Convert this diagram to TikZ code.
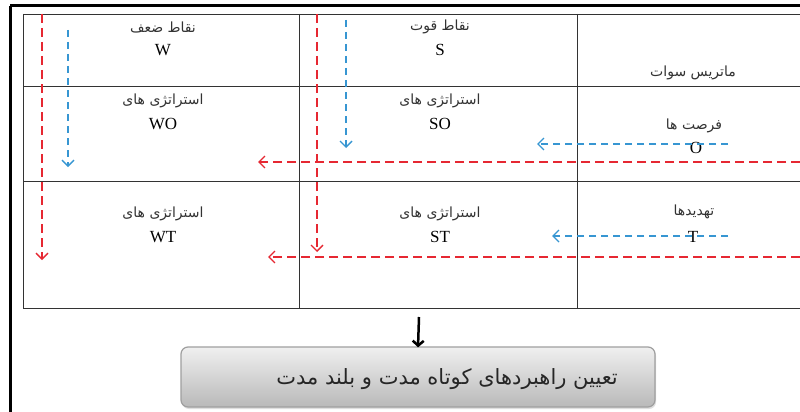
\documentclass[tikz,border=0pt]{standalone}
\usepackage{fontspec}
\setmainfont{Liberation Serif}
\newfontfamily\fa[Script=Arabic]{DejaVu Sans}
\TeXXeTstate=1
\usetikzlibrary{arrows.meta,shadows}
\definecolor{myred}{RGB}{230,40,50}
\definecolor{myblue}{RGB}{55,150,210}
\begin{document}
\begin{tikzpicture}[x=1pt,y=-1pt,
  gridline/.style={draw=black!80, line width=0.8pt},
  frameline/.style={draw=black, line width=3pt},
  lat/.style={inner sep=0pt, text=black, font=\fontsize{17}{19}\selectfont},
  per/.style={inner sep=0pt, text=black!80, font=\fa\fontsize{14}{16}\selectfont},
  redarr/.style={draw=myred, line width=1.3pt, dash pattern=on 9pt off 5pt, -{Straight Barb[length=6pt,width=12pt]}},
  bluearr/.style={draw=myblue, line width=1.4pt, dash pattern=on 7pt off 5pt, -{Straight Barb[length=6pt,width=12pt]}},
  resbox/.style={draw=gray!75, line width=1.2pt, rounded corners=7pt, top color=gray!12, bottom color=gray!55, minimum width=474pt, minimum height=60pt, drop shadow={opacity=0.25, shadow xshift=1pt, shadow yshift=-2pt}},
  blackarr/.style={draw=black, line width=2.5pt, -{Straight Barb[length=5pt,width=11pt,line width=2.5pt]}}]
\useasboundingbox (0,0) rectangle (800,412);
\fill[white] (0,0) rectangle (800,412);
% outer frame
\draw[frameline] (10,6) -- (800,6);
\draw[frameline] (10,6) -- (10,412);
% table
\draw[gridline] (23,14) -- (800,14);
\draw[gridline] (23,86) -- (800,86);
\draw[gridline] (23,181) -- (800,181);
\draw[gridline] (23,308) -- (800,308);
\draw[gridline] (23,14) -- (23,308);
\draw[gridline] (299,14) -- (299,308);
\draw[gridline] (577,14) -- (577,308);
% texts
\node[per] (wfa) at (163,27) {\beginR نقاط ضعف\endR};
\node[lat] (w) at (163,50) {W};
\node[per] (sfa) at (440,27) {\beginR نقاط قوت\endR};
\node[lat] (s) at (440,50) {S};
\node[per] (swot) at (693,73) {\beginR ماتریس سوات\endR};
\node[per] (wofa) at (163,101) {\beginR استراتژی های\endR};
\node[lat] (wo) at (163,124) {WO};
\node[per] (sofa) at (440,101) {\beginR استراتژی های\endR};
\node[lat] (so) at (440,124) {SO};
\node[per] (ofa) at (694,126) {\beginR فرصت ها\endR};
\node[lat] (o) at (696,148) {O};
\node[per] (wtfa) at (163,214) {\beginR استراتژی های\endR};
\node[lat] (wt) at (163,237) {WT};
\node[per] (stfa) at (440,214) {\beginR استراتژی های\endR};
\node[lat] (st) at (440,237) {ST};
\node[per] (tfa) at (694,212) {\beginR تهدیدها\endR};
\node[lat] (t) at (693,237) {T};
% arrow end points
\coordinate (r1a) at (42,14);  \coordinate (r1b) at (42,260);
\coordinate (b1a) at (68,30);  \coordinate (b1b) at (68,167);
\coordinate (r2a) at (317,14); \coordinate (r2b) at (317,252);
\coordinate (b2a) at (346,20); \coordinate (b2b) at (346,148);
\coordinate (boa) at (728,144); \coordinate (bob) at (537,144);
\coordinate (roa) at (800,162); \coordinate (rob) at (258,162);
\coordinate (bta) at (728,236); \coordinate (btb) at (552,236);
\coordinate (rta) at (800,257); \coordinate (rtb) at (268,257);
\draw[redarr] (r1a) -- (r1b);
\draw[bluearr] (b1a) -- (b1b);
\draw[redarr] (r2a) -- (r2b);
\draw[bluearr] (b2a) -- (b2b);
\draw[bluearr] (boa) -- (bob);
\draw[redarr] (roa) -- (rob);
\draw[bluearr] (bta) -- (btb);
\draw[redarr] (rta) -- (rtb);
% result box
\node[resbox] (res) at (418,377) {};
\node[inner sep=0pt, anchor=east, text=black!85, font=\fa\fontsize{21}{24}\selectfont] (restext) at (618,379) {\beginR تعیین راهبردهای کوتاه مدت و بلند مدت\endR};
\coordinate (arrtop) at (419,317);
\draw[blackarr] (arrtop) -- ([yshift=-1pt]res.north);
\end{tikzpicture}
\end{document}
